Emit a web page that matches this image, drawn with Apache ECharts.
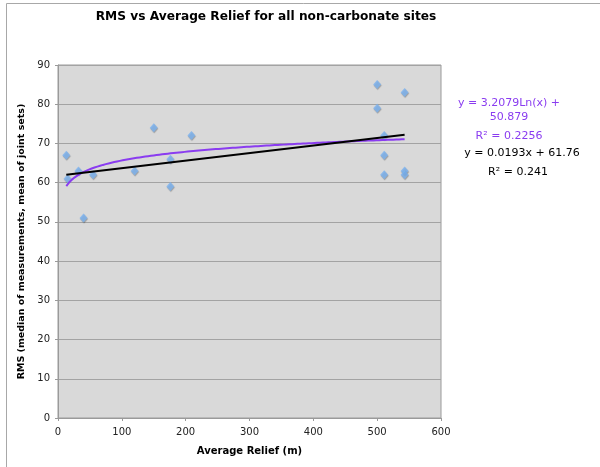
<!DOCTYPE html>
<html>
<head>
<meta charset="utf-8">
<script src="https://cdn.jsdelivr.net/npm/echarts@6/dist/echarts.min.js"></script>
<style>
  html, body { margin: 0; padding: 0; background: #fff; }
  #chart { width: 600px; height: 467px; }
</style>
</head>
<body>
<div id="chart"></div>
<script>
// Site measurements: average relief (m) and RMS
const reliefM = [13, 15, 32, 40, 55, 120, 150, 176, 176, 209, 500, 500, 511, 511, 511, 543, 543, 543];
const rmsVal  = [67, 61, 63, 51, 62, 63, 74, 66, 59, 72, 85, 79, 72, 67, 62, 83, 63, 62];

// Fitted trend coefficients (as stated in the equation labels)
const logFit = { a: 3.2079, b: 50.879, r2: '0.2256' };
const linFit = { m: 0.0193, c: 61.76, r2: '0.241' };

const xTicks = [0, 100, 200, 300, 400, 500, 600];
const yTicks = [0, 10, 20, 30, 40, 50, 60, 70, 80, 90];

const xMin = Math.min(...reliefM), xMax = Math.max(...reliefM);
const steps = 120;
const logLine = [], linLine = [];
for (let i = 0; i <= steps; i++) {
  const x = xMin + (xMax - xMin) * i / steps;
  logLine.push([x, logFit.a * Math.log(x) + logFit.b]);
}
linLine.push([xMin, linFit.m * xMin + linFit.c], [xMax, linFit.m * xMax + linFit.c]);

const font = 'DejaVu Sans, Verdana, sans-serif';
const chart = echarts.init(document.getElementById('chart'), null, { renderer: 'canvas' });

function eqText(x, y, text, color) {
  return { type: 'text', x: x, y: y, z: 10,
           style: { text: text, fill: color, font: '11px ' + font, textAlign: 'center', textVerticalAlign: 'middle' } };
}

chart.setOption({
  animation: false,
  backgroundColor: '#fff',
  grid: { left: 58, top: 65, width: 383, height: 353, show: true,
          backgroundColor: '#d9d9d9', borderColor: '#9a9a9a', borderWidth: 1 },
  xAxis: {
    type: 'value', min: 0, max: 600, interval: 100,
    name: 'Average Relief (m)', nameLocation: 'middle', nameGap: 28,
    nameTextStyle: { fontFamily: font, fontSize: 10, fontWeight: 'bold', color: '#000' },
    axisLine: { show: true, lineStyle: { color: '#9a9a9a', width: 1 } },
    axisTick: { show: true, length: 3, inside: false, lineStyle: { color: '#9a9a9a' } },
    axisLabel: { fontFamily: font, fontSize: 10, color: '#222', margin: 9,
                 formatter: v => xTicks.includes(v) ? String(v) : '' },
    splitLine: { show: false }
  },
  yAxis: {
    type: 'value', min: 0, max: 90, interval: 10,
    name: 'RMS (median of measurements, mean of joint sets)', nameLocation: 'middle', nameGap: 30,
    nameTextStyle: { fontFamily: font, fontSize: 9.5, fontWeight: 'bold', color: '#000' },
    axisLine: { show: true, lineStyle: { color: '#9a9a9a', width: 1 } },
    axisTick: { show: true, length: 3, lineStyle: { color: '#9a9a9a' } },
    axisLabel: { fontFamily: font, fontSize: 10, color: '#222', margin: 8,
                 formatter: v => yTicks.includes(v) ? String(v) : '' },
    splitLine: { show: true, lineStyle: { color: '#a3a3a3', width: 1 } }
  },
  series: [
    {
      type: 'scatter', data: reliefM.map((x, i) => [x, rmsVal[i]]),
      symbol: 'diamond', symbolSize: [8, 9], z: 3,
      itemStyle: { color: '#7cb4f2', shadowColor: 'rgba(0,0,0,0.35)', shadowBlur: 1, shadowOffsetX: 0.5, shadowOffsetY: 1 }
    },
    {
      type: 'line', data: logLine, showSymbol: false, smooth: false, z: 4,
      lineStyle: { color: '#8a3cf0', width: 2 }
    },
    {
      type: 'line', data: linLine, showSymbol: false, z: 5,
      lineStyle: { color: '#000', width: 2 }
    }
  ],
  graphic: [
    { type: 'polyline', shape: { points: [[6.5, 470], [6.5, 3.5], [605, 3.5]] },
      style: { stroke: '#a8a8a8', lineWidth: 1, fill: null } },
    { type: 'text', x: 266, y: 17, z: 10,
      style: { text: 'RMS vs Average Relief for all non-carbonate sites', fill: '#000',
               font: 'bold 12.2px ' + font, textAlign: 'center', textVerticalAlign: 'middle' } },
    eqText(509, 103, 'y = ' + logFit.a + 'Ln(x) +', '#8a3cf0'),
    eqText(509, 117, String(logFit.b), '#8a3cf0'),
    eqText(509, 136, 'R² = ' + logFit.r2, '#8a3cf0'),
    eqText(522, 153, 'y = ' + linFit.m + 'x + ' + linFit.c, '#000'),
    eqText(518, 172, 'R² = ' + linFit.r2, '#000')
  ]
});
</script>
</body>
</html>
